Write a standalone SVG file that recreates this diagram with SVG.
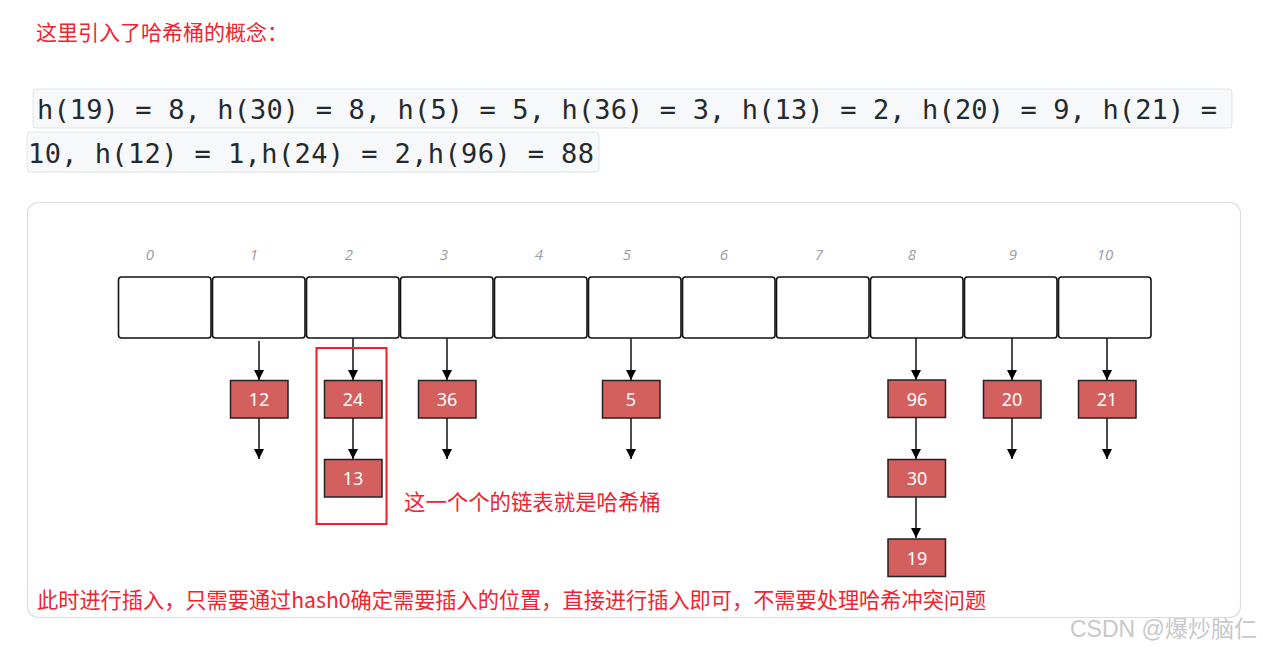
<svg xmlns="http://www.w3.org/2000/svg" width="1263" height="649" viewBox="0 0 1263 649">
<defs>
<marker id="ah" markerUnits="userSpaceOnUse" markerWidth="10" markerHeight="10" viewBox="0 0 10 10" refX="10" refY="5" orient="auto">
<path d="M0,0 L10,5 L0,10 z" fill="#000"/>
</marker>
<style>
.cjk{font-family:"Noto Sans CJK SC","Noto Sans",sans-serif;fill:#f0242f}
.code{font-family:"DejaVu Sans Mono","Liberation Mono",monospace;font-size:27px;fill:#24292e}
.codebg{fill:#f6f8fa;stroke:#e1e4e8;stroke-width:1}
.idx{font-family:"Open Sans","Noto Sans",sans-serif;font-style:italic;font-size:15px;fill:#9a9ca3;text-anchor:middle}
.bucket{fill:#fff;stroke:#111;stroke-width:1.6}
.node rect{fill:#d35f5f;stroke:#222;stroke-width:1.5}
.node text{font-family:"Noto Sans","Open Sans",sans-serif;font-size:18px;fill:#fff;text-anchor:middle}
.conn line{stroke:#111;stroke-width:1.5;marker-end:url(#ah)}
</style>
</defs>
<rect width="1263" height="649" fill="#fff"/>
<text class="cjk" x="36" y="40" font-size="21">这里引入了哈希桶的概念：</text>
<rect class="codebg" x="33" y="89" width="1199" height="39" rx="3"/>
<rect class="codebg" x="27" y="132" width="572" height="40" rx="3"/>
<text class="code" x="37" y="119" textLength="1180" lengthAdjust="spacing">h(19) = 8, h(30) = 8, h(5) = 5, h(36) = 3, h(13) = 2, h(20) = 9, h(21) =</text>
<text class="code" x="28" y="163" textLength="566" lengthAdjust="spacing">10, h(12) = 1,h(24) = 2,h(96) = 88</text>
<rect x="27.5" y="202.5" width="1213" height="415" rx="11" fill="#fff" stroke="#dcdee3" stroke-width="1.2"/>
<g id="indices">
<text class="idx" x="150" y="260">0</text>
<text class="idx" x="254" y="260">1</text>
<text class="idx" x="349" y="260">2</text>
<text class="idx" x="444" y="260">3</text>
<text class="idx" x="539" y="260">4</text>
<text class="idx" x="627" y="260">5</text>
<text class="idx" x="724" y="260">6</text>
<text class="idx" x="819" y="260">7</text>
<text class="idx" x="912" y="260">8</text>
<text class="idx" x="1013" y="260">9</text>
<text class="idx" x="1105" y="260">10</text>
</g>
<g id="buckets">
<rect id="b0" class="bucket" x="118.5" y="277" width="92.5" height="61" rx="3"/>
<rect id="b1" class="bucket" x="212.5" y="277" width="92.5" height="61" rx="3"/>
<rect id="b2" class="bucket" x="306.5" y="277" width="92.5" height="61" rx="3"/>
<rect id="b3" class="bucket" x="400.5" y="277" width="92.5" height="61" rx="3"/>
<rect id="b4" class="bucket" x="494.5" y="277" width="92.5" height="61" rx="3"/>
<rect id="b5" class="bucket" x="588.5" y="277" width="92.5" height="61" rx="3"/>
<rect id="b6" class="bucket" x="682.5" y="277" width="92.5" height="61" rx="3"/>
<rect id="b7" class="bucket" x="776.5" y="277" width="92.5" height="61" rx="3"/>
<rect id="b8" class="bucket" x="870.5" y="277" width="92.5" height="61" rx="3"/>
<rect id="b9" class="bucket" x="964.5" y="277" width="92.5" height="61" rx="3"/>
<rect id="b10" class="bucket" x="1058.5" y="277" width="92.5" height="61" rx="3"/>
</g>
<g id="connectors" class="conn">
<line x1="259" y1="341" x2="259" y2="380"/>
<line x1="353" y1="338" x2="353" y2="380"/>
<line x1="447" y1="338" x2="447" y2="380"/>
<line x1="631" y1="338" x2="631" y2="380"/>
<line x1="916" y1="338" x2="916" y2="380"/>
<line x1="1012" y1="338" x2="1012" y2="380"/>
<line x1="1107" y1="338" x2="1107" y2="380"/>
<line x1="259" y1="418" x2="259" y2="459"/>
<line x1="353" y1="418" x2="353" y2="459"/>
<line x1="447" y1="418" x2="447" y2="459"/>
<line x1="631" y1="418" x2="631" y2="459"/>
<line x1="916" y1="418" x2="916" y2="459"/>
<line x1="1012" y1="418" x2="1012" y2="459"/>
<line x1="1107" y1="418" x2="1107" y2="459"/>
<line x1="916" y1="497" x2="916" y2="538"/>
</g>
<g id="n12" class="node"><rect x="230.5" y="380.5" width="57.5" height="37.5"/><text x="259" y="406">12</text></g>
<g id="n24" class="node"><rect x="324.5" y="380.5" width="57.5" height="37.5"/><text x="353" y="406">24</text></g>
<g id="n13" class="node"><rect x="324.5" y="459.5" width="57.5" height="37.5"/><text x="353" y="485">13</text></g>
<g id="n36" class="node"><rect x="418.5" y="380.5" width="57.5" height="37.5"/><text x="447" y="406">36</text></g>
<g id="n5" class="node"><rect x="602.5" y="380.5" width="57.5" height="37.5"/><text x="631" y="406">5</text></g>
<g id="n96" class="node"><rect x="888" y="380" width="57.5" height="37.5"/><text x="917" y="405.5">96</text></g>
<g id="n30" class="node"><rect x="888" y="459.5" width="57.5" height="37.5"/><text x="917" y="485">30</text></g>
<g id="n19" class="node"><rect x="888" y="539" width="57.5" height="37.5"/><text x="917" y="564.5">19</text></g>
<g id="n20" class="node"><rect x="983.5" y="380.5" width="57.5" height="37.5"/><text x="1012" y="406">20</text></g>
<g id="n21" class="node"><rect x="1078.5" y="380.5" width="57.5" height="37.5"/><text x="1107" y="406">21</text></g>
<rect id="highlight" x="316.5" y="348" width="70" height="176" fill="none" stroke="#e8212b" stroke-width="2"/>
<text class="cjk" x="404" y="510" font-size="21.4">这一个个的链表就是哈希桶</text>
<text class="cjk" x="37" y="608" font-size="21.2">此时进行插入，只需要通过hash0确定需要插入的位置，直接进行插入即可，不需要处理哈希冲突问题</text>
<text x="1070" y="637" font-family="'Liberation Sans','Noto Sans CJK SC',sans-serif" font-size="23" fill="#c8c8c8">CSDN @爆炒脑仁</text>
</svg>
